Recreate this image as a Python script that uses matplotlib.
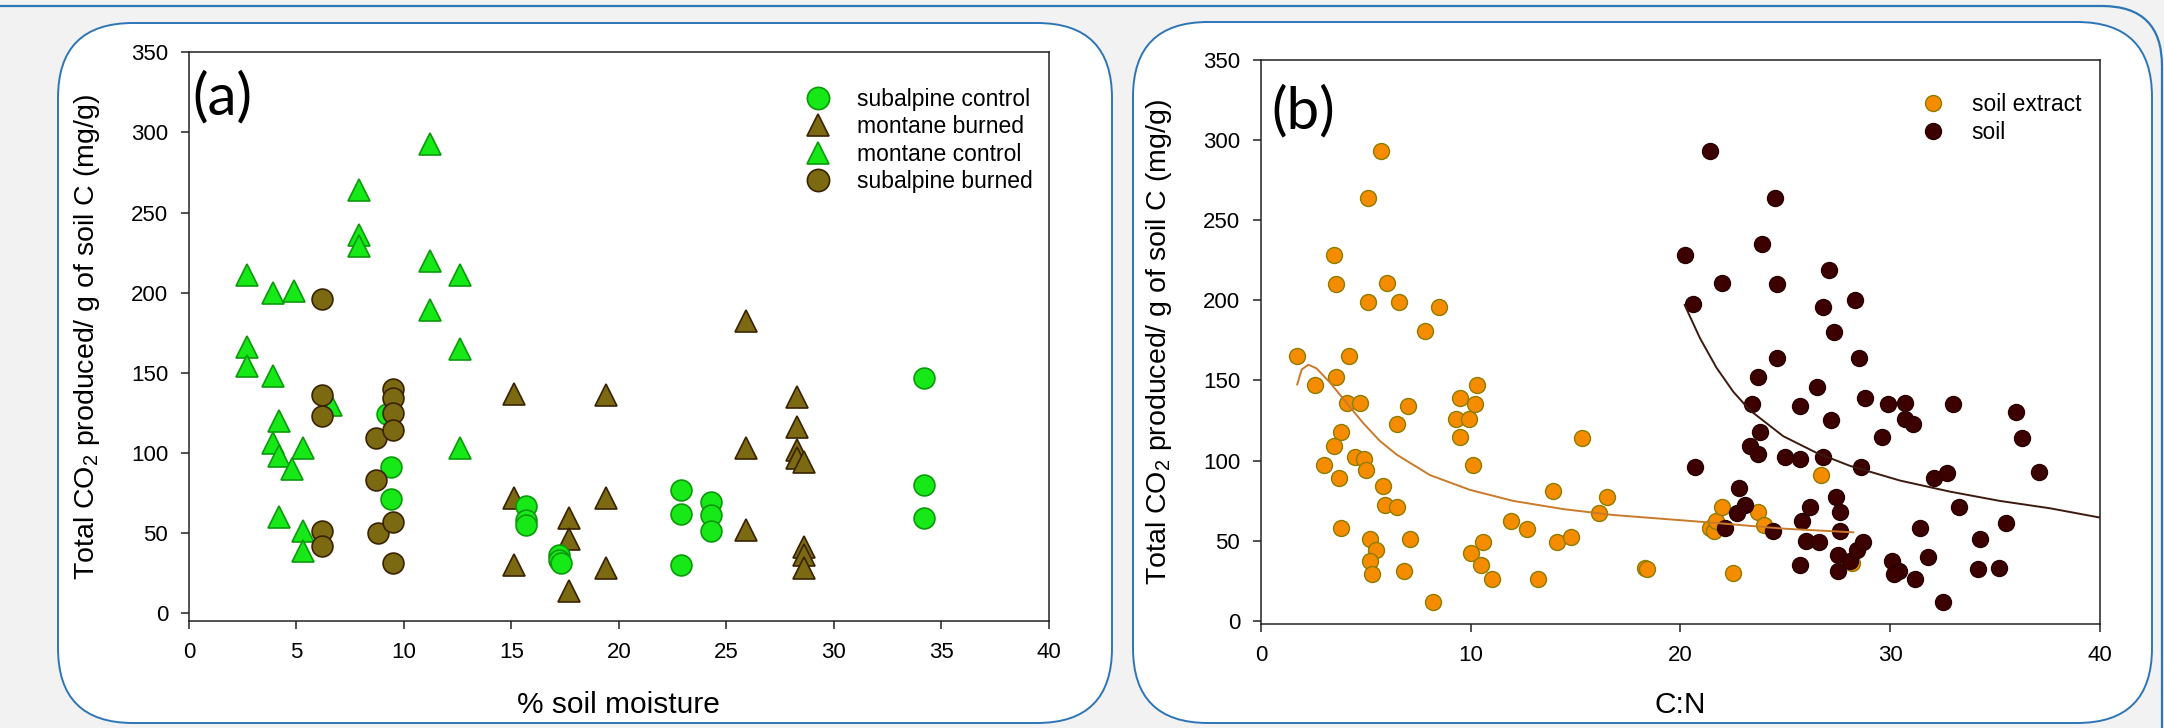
import matplotlib.pyplot as plt
from matplotlib.patches import FancyBboxPatch
from matplotlib.lines import Line2D

plt.rcParams['font.family'] = ['Liberation Sans', 'DejaVu Sans']
plt.rcParams['mathtext.default'] = 'regular'

# (a) % soil moisture vs CO2
sc_x = [9.4, 9.4, 9.2, 15.7, 15.7, 15.7, 17.2, 17.2, 17.3, 22.9, 22.9, 22.9, 24.3, 24.3, 24.3, 34.2, 34.2, 34.2]
sc_y = [91, 71, 124, 67, 58, 55, 36, 33, 31, 77, 62, 30, 69, 61, 51, 147, 80, 59]

mc_x = [2.7, 2.7, 2.7, 3.9, 4.9, 3.9, 4.2, 3.9, 4.2, 4.8, 5.3, 4.2, 5.3, 5.3, 6.6, 7.9, 7.9, 7.9, 11.2, 11.2, 11.2, 12.6, 12.6, 12.6]
mc_y = [211, 166, 154, 200, 201, 148, 120, 106, 98, 90, 103, 60, 51, 39, 130, 264, 236, 229, 293, 220, 189, 211, 165, 103]

mb_x = [15.1, 15.1, 15.1, 17.7, 17.7, 17.7, 19.4, 19.4, 19.4, 25.9, 25.9, 25.9, 28.3, 28.3, 28.3, 28.3, 28.6, 28.6, 28.6, 28.6]
mb_y = [137, 72, 30, 59, 46, 14, 136, 72, 28, 182, 103, 52, 135, 116, 102, 97, 94, 41, 36, 28]

sb_x = [6.2, 6.2, 6.2, 6.2, 6.2, 8.7, 8.7, 8.8, 9.5, 9.5, 9.5, 9.5, 9.5, 9.5]
sb_y = [196, 136, 123, 51, 42, 109, 83, 50, 140, 134, 125, 114, 57, 31]

# (b) C:N vs CO2
se_x = [1.7, 2.6, 3.5, 3.6, 3.6, 4.1, 4.2, 3.8, 3.5, 3.0, 3.7, 3.8, 4.7, 4.5, 4.9, 5.0, 5.1, 5.1, 5.7, 6.0,
        5.8, 5.9, 5.2, 5.5, 5.2, 5.3, 6.6, 6.5, 7.0, 6.5, 7.1, 6.8, 7.8, 8.5, 8.2, 9.5, 9.3, 9.5, 9.9, 10.3,
        10.2, 10.1, 10.0, 10.5, 10.6, 11.0, 11.9, 12.7, 13.2, 13.9, 14.1, 14.8, 15.3, 16.1, 16.5, 18.3, 18.4, 21.4, 21.6, 21.7,
        22.0, 22.5, 23.7, 24.0, 26.7, 28.2]
se_y = [165, 147, 228, 210, 152, 136, 165, 118, 109, 97, 89, 58, 136, 102, 101, 94, 199, 264, 293, 211,
        84, 72, 51, 44, 37, 29, 199, 123, 134, 71, 51, 31, 181, 196, 12, 139, 126, 115, 126, 147,
        135, 97, 42, 35, 49, 26, 62, 57, 26, 81, 49, 52, 114, 67, 77, 33, 32, 58, 56, 62,
        71, 30, 68, 60, 91, 36]

so_x = [21.4, 24.5, 23.9, 20.2, 22.0, 24.6, 27.1, 20.6, 26.8, 28.3, 27.3, 24.6, 28.5, 23.7, 26.5, 23.4, 25.7, 28.8, 29.9, 30.7,
        30.7, 31.1, 33.0, 36.0, 36.3, 37.1, 29.6, 27.2, 23.8, 23.3, 23.7, 25.0, 25.7, 26.8, 28.6, 20.7, 32.1, 32.7, 33.3, 22.8,
        23.1, 22.7, 22.1, 24.4, 26.2, 25.8, 27.4, 27.6, 27.6, 26.0, 26.6, 25.7, 27.5, 27.5, 28.1, 28.4, 28.7, 31.4, 30.1, 30.4,
        30.2, 31.2, 31.8, 32.5, 34.3, 35.5, 34.2, 35.2]
so_y = [293, 264, 235, 228, 211, 210, 219, 198, 196, 200, 180, 164, 164, 152, 146, 135, 134, 139, 135, 136,
        126, 123, 135, 130, 114, 93, 115, 125, 118, 109, 104, 102, 101, 102, 96, 96, 89, 92, 71, 83,
        72, 67, 58, 56, 71, 62, 77, 68, 56, 50, 49, 35, 41, 31, 37, 44, 49, 58, 37, 31,
        29, 26, 40, 12, 51, 61, 32, 33]

# fitted curves
se_fit_x = [1.73, 1.94, 2.26, 2.65, 3.29, 4.08, 4.88, 5.67, 6.47, 8.06, 9.96, 12.03, 14.41, 16.8, 19.97, 21.72, 24.9, 28.24]
se_fit_y = [147.5, 156.8, 159.8, 157.5, 148.7, 136, 123.3, 112.2, 103.7, 90.9, 81.7, 74.8, 69.7, 66, 62.8, 61, 57.5, 55.2]
so_fit_x = [20.2, 20.93, 21.72, 22.52, 23.31, 24.9, 26.49, 28.08, 30.47, 32.85, 35.23, 37.62, 40]
so_fit_y = [197.1, 176.4, 157.9, 142.9, 131.4, 115.2, 104.8, 96.7, 87.5, 80.6, 74.8, 70.2, 64.4]

green = '#17e817'
green_e = '#0a9a0a'
olive = '#7b6a12'
olive_e = '#3a2200'
orange = '#f58c00'
orange_e = '#8c7c00'
maroon = '#3c0000'
blue = '#2e75b6'

fig = plt.figure(figsize=(21.64, 7.28), dpi=100)
fig.patch.set_facecolor('#f2f2f2')

# background panels drawn in pixel units
bg = fig.add_axes([0, 0, 1, 1], zorder=-5)
bg.set_xlim(0, 2164)
bg.set_ylim(728, 0)
bg.axis('off')
bg.add_patch(FancyBboxPatch((-200, 6), 2362, 1000, boxstyle='round,pad=0,rounding_size=60',
                            fc='none', ec=blue, lw=1.6))
bg.add_patch(FancyBboxPatch((58, 23), 1054, 700, boxstyle='round,pad=0,rounding_size=75',
                            fc='white', ec=blue, lw=1.4))
bg.add_patch(FancyBboxPatch((1133, 22), 1019, 701, boxstyle='round,pad=0,rounding_size=75',
                            fc='white', ec=blue, lw=1.4))

ax1 = fig.add_axes([0.0873, 0.147, 0.3974, 0.781])
ax2 = fig.add_axes([0.5827, 0.1429, 0.3877, 0.7747])

ylab = 'Total CO$_2$ produced/ g of soil C (mg/g)'

for ax in (ax1, ax2):
    ax.set_facecolor('white')
    for s in ax.spines.values():
        s.set_linewidth(1.1)
        s.set_color('#222222')
    ax.tick_params(direction='out', length=6, width=1.1, labelsize=16, pad=9, color='#222222')
    ax.set_ylim(-5, 350)
    ax.set_yticks(range(0, 351, 50))
    ax.set_xlim(0, 40)
    ax.set_ylabel(ylab, fontsize=20.5, labelpad=21)

# panel (a)
ax1.plot(mc_x, mc_y, '^', ms=16, mfc=green, mec=green_e, mew=1.2)
ax1.plot(mb_x, mb_y, '^', ms=16, mfc=olive, mec=olive_e, mew=1.2)
ax1.plot(sc_x, sc_y, 'o', ms=15, mfc=green, mec=green_e, mew=1.2)
ax1.plot(sb_x, sb_y, 'o', ms=15, mfc=olive, mec=olive_e, mew=1.2)
ax1.set_xticks(range(0, 41, 5))
ax1.set_xlabel('% soil moisture', fontsize=21.5, labelpad=20)
ax1.text(0.004, 0.92, '(a)', transform=ax1.transAxes, fontsize=42, family='Lato', va='center')

h1 = [Line2D([], [], ls='', marker='o', ms=16, mfc=green, mec=green_e, mew=1.2),
      Line2D([], [], ls='', marker='^', ms=16, mfc=olive, mec=olive_e, mew=1.2),
      Line2D([], [], ls='', marker='^', ms=16, mfc=green, mec=green_e, mew=1.2),
      Line2D([], [], ls='', marker='o', ms=16, mfc=olive, mec=olive_e, mew=1.2)]
ax1.legend(h1, ['subalpine control', 'montane burned', 'montane control', 'subalpine burned'],
           loc='upper left', bbox_to_anchor=(0.718, 0.938), frameon=False, fontsize=16.5,
           handlelength=1.0, handletextpad=1.2, labelspacing=0.2, borderpad=0, borderaxespad=0)

# panel (b)
ax2.set_ylim(-2, 350)
ax2.plot(se_x, se_y, 'o', ms=11.5, mfc=orange, mec=orange_e, mew=1.0)
ax2.plot(so_x, so_y, 'o', ms=11.5, mfc=maroon, mec='#2a0000', mew=1.0)
ax2.plot(se_fit_x, se_fit_y, '-', color='#c97a2a', lw=1.4)
ax2.plot(so_fit_x, so_fit_y, '-', color='#3d1a10', lw=1.4)
ax2.set_xticks(range(0, 41, 10))
ax2.set_xlabel('C:N', fontsize=21.5, labelpad=18)
ax2.text(0.012, 0.908, '(b)', transform=ax2.transAxes, fontsize=42, family='Lato', va='center')

h2 = [Line2D([], [], ls='', marker='o', ms=11.5, mfc=orange, mec=orange_e, mew=1.0),
      Line2D([], [], ls='', marker='o', ms=11.5, mfc=maroon, mec='#2a0000', mew=1.0)]
ax2.legend(h2, ['soil extract', 'soil'], loc='upper left', bbox_to_anchor=(0.787, 0.941),
           frameon=False, fontsize=16.5, handlelength=1.0, handletextpad=1.2,
           labelspacing=0.2, borderpad=0, borderaxespad=0)

fig.savefig('out.png', dpi=100, facecolor=fig.get_facecolor())
